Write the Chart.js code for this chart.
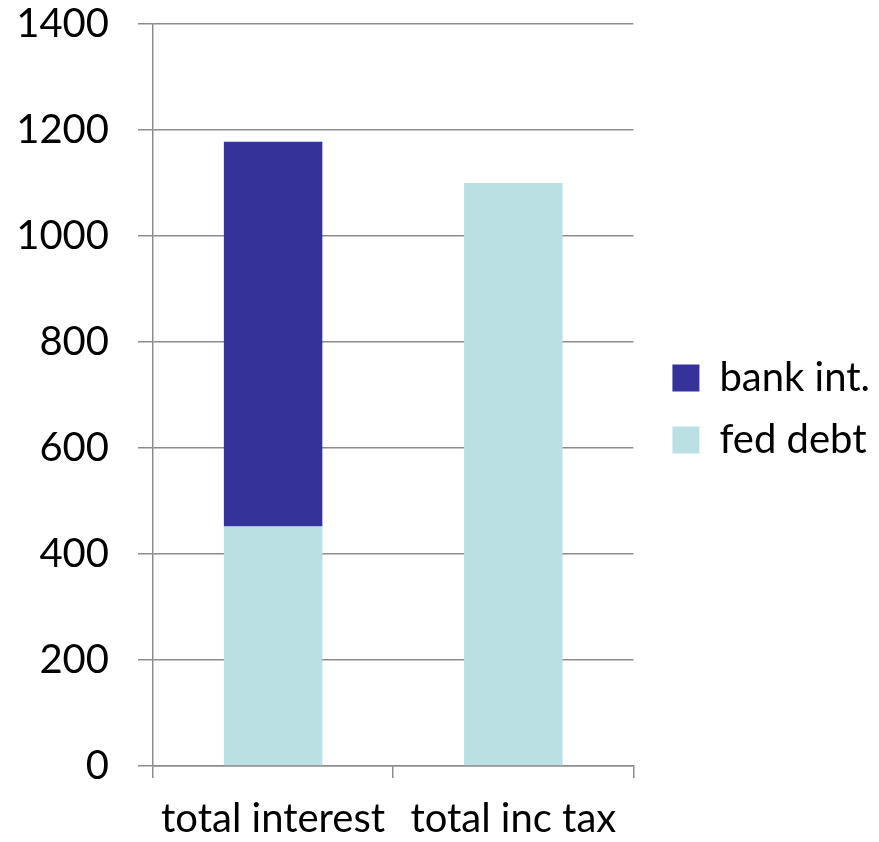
<!DOCTYPE html>
<html lang="en">
<head>
    <meta charset="UTF-8">
    <title>Chart</title>
    <script src="https://cdn.jsdelivr.net/npm/chart.js@4.4.0/dist/chart.umd.min.js"></script>
    <style>
        body { margin: 0; background: #fff; }
        #wrap { width: 879px; height: 842px; }
    </style>
</head>
<body>
    <div id="wrap"><canvas id="chart" width="879" height="842"></canvas></div>
    <script>
        const categories = ['total interest', 'total inc tax'];
        const fedDebt = [452, 1100];
        const bankInt = [726, 0];
        const yTicks = [0, 200, 400, 600, 800, 1000, 1200, 1400];

        const font = { family: 'Lato', size: 40 };
        const gridColor = '#8c8c8c';

        const ctx = document.getElementById('chart').getContext('2d');
        const myChart = new Chart(ctx, {
            type: 'bar',
            data: {
                labels: categories,
                datasets: [{
                    label: 'fed debt',
                    data: fedDebt,
                    backgroundColor: '#bbe0e3',
                    stack: 's'
                }, {
                    label: 'bank int.',
                    data: bankInt,
                    backgroundColor: '#353399',
                    stack: 's'
                }]
            },
            options: {
                responsive: false,
                animation: false,
                barPercentage: 0.41,
                categoryPercentage: 1,
                layout: { padding: { top: 0, right: -1, left: 10, bottom: -18 } },
                plugins: {
                    tooltip: { enabled: false },
                    legend: {
                        position: 'right',
                        fullSize: false,
                        maxWidth: 300,
                        title: { display: true, text: ' ', font: { size: 10 }, padding: 8 },
                        labels: {
                            font: font,
                            color: '#000',
                            boxWidth: 27,
                            boxHeight: 27,
                            padding: 22,
                            sort: (a, b) => b.datasetIndex - a.datasetIndex
                        }
                    }
                },
                scales: {
                    x: {
                        stacked: true,
                        grid: {
                            display: true,
                            drawOnChartArea: false,
                            offset: true,
                            color: gridColor,
                            lineWidth: 1.5,
                            tickLength: 12
                        },
                        border: { color: gridColor, width: 1.5 },
                        ticks: { font: font, color: '#000', padding: 17, maxRotation: 0, autoSkip: false }
                    },
                    y: {
                        stacked: true,
                        min: 0,
                        max: 1400,
                        afterBuildTicks: axis => { axis.ticks = yTicks.map(v => ({ value: v })); },
                        afterFit: axis => {
                            axis.width = 143;
                            axis.paddingTop = 24;
                            axis.paddingBottom = 0;
                        },
                        grid: {
                            color: gridColor,
                            lineWidth: 1.5,
                            tickLength: 15
                        },
                        border: { color: gridColor, width: 1.5 },
                        ticks: { font: font, color: '#000', padding: 29, callback: v => String(v) }
                    },
                    // empty spacer between plot and legend
                    gap: {
                        position: 'right',
                        min: 0,
                        max: 1400,
                        afterFit: axis => { axis.width = 17; },
                        grid: { display: false },
                        border: { display: false },
                        ticks: { display: false }
                    }
                }
            }
        });
    </script>
</body>
</html>
